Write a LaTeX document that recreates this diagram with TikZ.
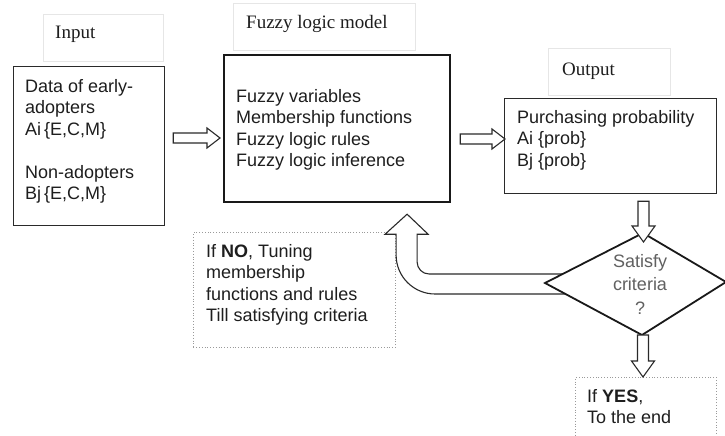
\documentclass[tikz,border=0pt]{standalone}
\usepackage{fontspec}
\setmainfont{Liberation Serif}
\newfontfamily\arialf{Liberation Sans}
\usetikzlibrary{calc}
\definecolor{txtc}{HTML}{1E1E1E}
\definecolor{linec}{HTML}{2A2A2A}
\definecolor{faint}{HTML}{E6E6E6}
\definecolor{dotc}{HTML}{9A9A9A}
\newcommand\harrowH[2]{\draw[hollow] let \p1=(#1), \p2=(#2) in
  (\x1,\y1-5pt) -- (\x2-13pt,\y1-5pt) -- (\x2-13pt,\y1-10pt) -- (\x2,\y1)
  -- (\x2-13pt,\y1+10pt) -- (\x2-13pt,\y1+5pt) -- (\x1,\y1+5pt) -- cycle;}
\newcommand\harrowV[2]{\draw[hollow] let \p1=(#1), \p2=(#2) in
  (\x1-5.5pt,\y1) -- (\x1-5.5pt,\y2+16pt) -- (\x1-11.5pt,\y2+16pt) -- (\x1,\y2)
  -- (\x1+11.5pt,\y2+16pt) -- (\x1+5.5pt,\y2+16pt) -- (\x1+5.5pt,\y1) -- cycle;}
\begin{document}
\begin{tikzpicture}[x=1pt,y=-1pt,
  titlebox/.style={draw=faint,line width=0.8pt,fill=white,anchor=north west,inner sep=0pt},
  plainbox/.style={draw=linec,line width=1.2pt,anchor=north west,inner sep=0pt},
  thickbox/.style={draw=black!90,line width=2.2pt,anchor=north west,inner sep=0pt},
  dotbox/.style={draw=dotc,line width=0.8pt,dotted,anchor=north west,inner sep=0pt},
  titletxt/.style={anchor=base west,inner sep=0pt,font=\fontsize{19}{22}\selectfont,text=txtc},
  bodytxt/.style={anchor=north west,inner sep=0pt,align=left,text=txtc,
    font=\arialf\fontsize{18}{21.5}\selectfont},
  hollow/.style={draw=linec,line width=1.1pt,fill=white,line join=miter}]
\useasboundingbox (0,0) rectangle (725,436);
\fill[white] (0,0) rectangle (725,436);

% title boxes
\node[titlebox,minimum width=120pt,minimum height=47pt] (inT) at (43,14) {};
\node[titletxt] (inTt) at (55,39) {Input};
\node[titlebox,minimum width=182pt,minimum height=47pt] (fuzT) at (233,3) {};
\node[titletxt] (fuzTt) at (246,29) {Fuzzy logic model};
\node[titlebox,minimum width=122pt,minimum height=47pt] (outT) at (548,48) {};
\node[titletxt] (outTt) at (562,75) {Output};

% main boxes
\node[plainbox,minimum width=151pt,minimum height=159pt] (inp) at (13,66) {};
\node[bodytxt] (inpt) at (25,77) {\strut Data of early-\\adopters\\Ai\,\{E,C,M\}\\[21.5pt]Non-adopters\\Bj\,\{E,C,M\}};

\node[thickbox,minimum width=226pt,minimum height=147pt] (fuz) at (223,54) {};
\node[bodytxt] (fuzt) at (236,87) {\strut Fuzzy variables\\Membership functions\\Fuzzy logic rules\\Fuzzy logic inference};

\node[plainbox,minimum width=212pt,minimum height=95pt] (out) at (504,98) {};
\node[bodytxt] (outt) at (517,108) {\strut Purchasing probability\\Ai \{prob\}\\Bj \{prob\}};

\node[dotbox,minimum width=202pt,minimum height=115pt] (no) at (193,232) {};
\node[bodytxt] (not) at (206,242) {\strut If \textbf{NO}, Tuning\\membership\\functions and rules\\Till satisfying criteria};

\node[dotbox,minimum width=141pt,minimum height=75pt] (yes) at (575,377) {};
\node[bodytxt] (yest) at (587,387) {\strut If \textbf{YES},\\To the end};

% diamond corners
\coordinate (diaL) at (545,283);
\coordinate (diaT) at (643,233);
\coordinate (diaR) at (726,282);
\coordinate (diaB) at (642,335);
\coordinate (fbtip) at ($(fuz.south)+(70,11)$);

% curved feedback arrow (drawn before diamond)
\draw[hollow] let \p1=(fbtip), \p2=(diaL) in
  (\x2+22pt,\y2+9pt) -- (\x1+22pt,\y2+9pt)
  arc[start angle=270,end angle=180,radius=12pt]
  -- (\x1+10pt,\y1-20pt) -- (\x1+21pt,\y1-20pt) -- (\x1,\y1)
  -- (\x1-22pt,\y1-20pt) -- (\x1-11pt,\y1-20pt)
  -- (\x1-11pt,\y2-11pt+39pt)
  arc[start angle=180,end angle=270,radius=39pt]
  -- (\x2+22pt,\y2-11pt) -- cycle;

% diamond
\draw[line width=1.8pt,fill=white,draw=black!90,line join=miter] (diaL) -- (diaT) -- (diaR) -- (diaB) -- cycle;
\node[inner sep=0pt,align=center,text=black!62,anchor=north,
  font=\arialf\fontsize{18}{23.5}\selectfont] (dia) at (640,250.5) {\strut Satisfy\\criteria\\?};

% straight hollow arrows
\coordinate (a1s) at ($(inp.north east)+(8,72)$);
\coordinate (a1e) at ($(fuz.north west)+(-3,84)$);
\harrowH{a1s}{a1e}
\coordinate (a2s) at ($(fuz.north east)+(9,85)$);
\coordinate (a2e) at ($(out.north west)+(1,41)$);
\harrowH{a2s}{a2e}
\coordinate (a3s) at ($(out.south west)+(139.5,7)$);
\coordinate (a3e) at ($(diaT)+(0.5,9)$);
\harrowV{a3s}{a3e}
\coordinate (a4s) at ($(diaB)+(1,0)$);
\coordinate (a4e) at ($(yes.north west)+(68,0)$);
\harrowV{a4s}{a4e}
\end{tikzpicture}
\end{document}
